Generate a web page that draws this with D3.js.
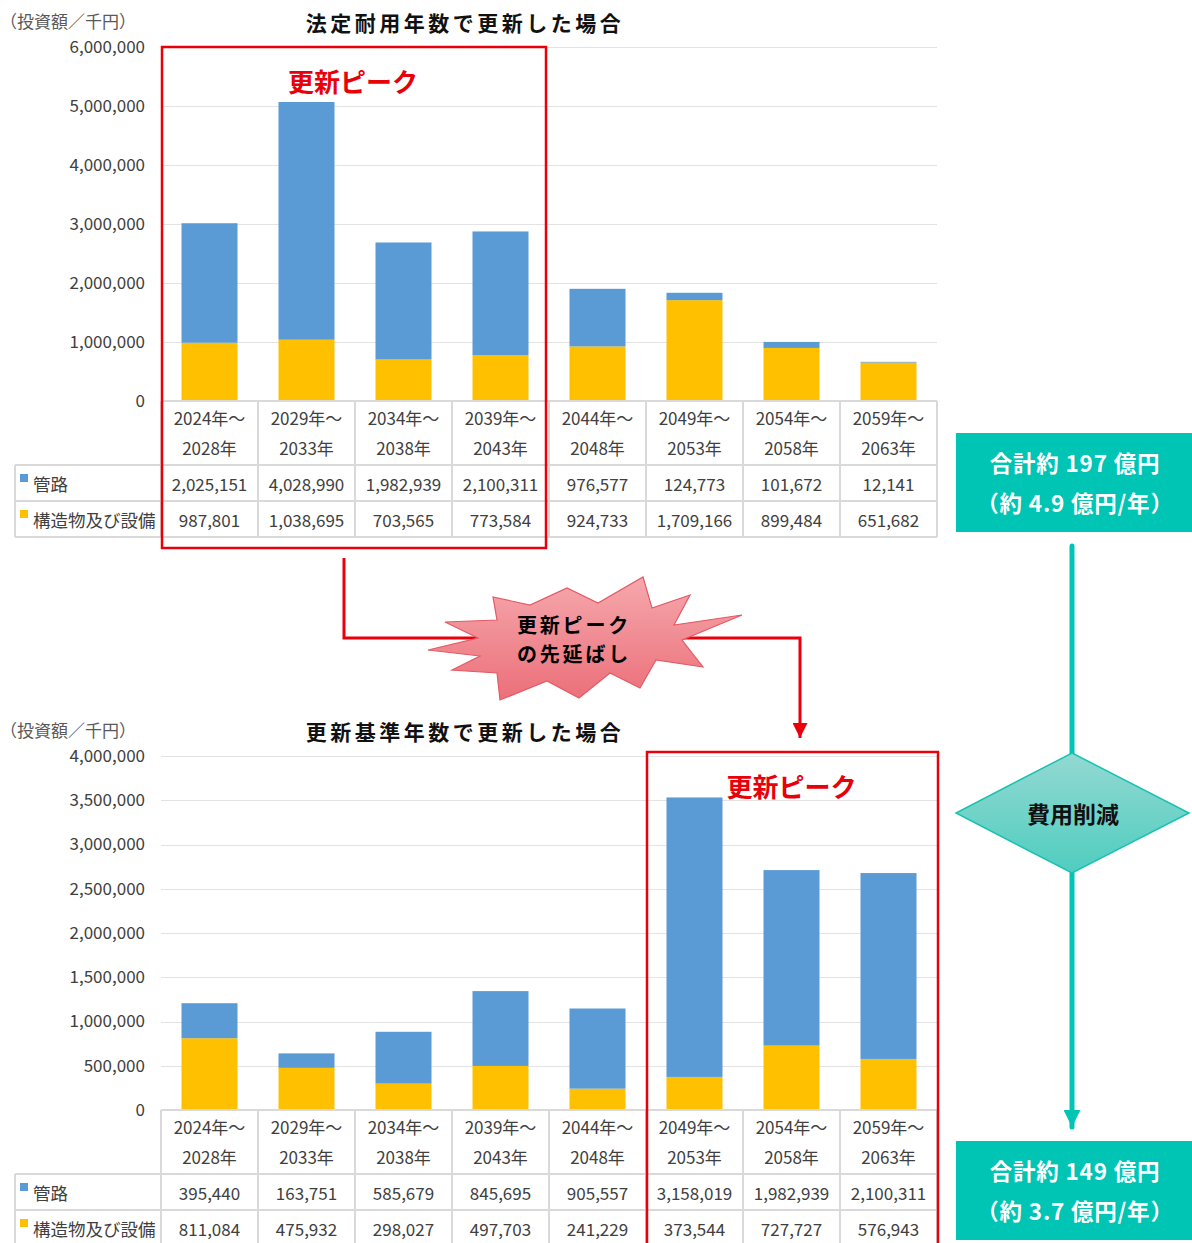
<!DOCTYPE html>
<html>
<head>
<meta charset="utf-8">
<script src="https://cdn.jsdelivr.net/npm/d3@7"></script>
<style>
  body { margin: 0; background: #fff; }
  svg { display: block; font-family: "Noto Sans CJK JP", "Noto Sans", sans-serif; }
</style>
</head>
<body>
<svg id="chart" width="1192" height="1243"></svg>
<script>
// Five-year renewal periods
const categories = [
  "2024年～2028年", "2029年～2033年", "2034年～2038年", "2039年～2043年",
  "2044年～2048年", "2049年～2053年", "2054年～2058年", "2059年～2063年"
];
const seriesNames = ["管路", "構造物及び設備"];

// Renewal by statutory useful life (thousand yen)
const legalPipe     = [2025151, 4028990, 1982939, 2100311, 976577, 124773, 101672, 12141];
const legalFacility = [987801, 1038695, 703565, 773584, 924733, 1709166, 899484, 651682];

// Renewal by the utility's own standard life (thousand yen)
const standardPipe     = [395440, 163751, 585679, 845695, 905557, 3158019, 1982939, 2100311];
const standardFacility = [811084, 475932, 298027, 497703, 241229, 373544, 727727, 576943];

const legalTicks    = [0, 1000000, 2000000, 3000000, 4000000, 5000000, 6000000];
const standardTicks = [0, 500000, 1000000, 1500000, 2000000, 2500000, 3000000, 3500000, 4000000];

const totalsLegal    = ["合計約 197 億円", "（約 4.9 億円/年）"];
const totalsStandard = ["合計約 149 億円", "（約 3.7 億円/年）"];

const COLORS = { pipe: "#5B9BD5", facility: "#FFC000" };
const RED = "#e8000b";
const TEAL = "#00C4B4";
const GRID = "#e3e3e3";
const TABLE_LINE = "#d9d9d9";
const TEXT = "#404040";
const FS = 17;

const svg = d3.select("#chart");
const defs = svg.append("defs");

const fmt = d3.format(",");
const x = d3.scaleBand().domain(categories).range([161, 937]);
const bw = x.bandwidth();
const barW = 56;
const tableLeft = 15;
const headH = 64, rowH = 36;

function splitPeriod(c) {
  const i = c.indexOf("～") + 1;
  return [c.slice(0, i), c.slice(i)];
}

function panel(o) {
  const g = svg.append("g");
  const y = d3.scaleLinear().domain([0, o.max]).range([o.base, o.top]);

  // unit and title
  g.append("text").attr("x", 0).attr("y", o.unitY).attr("dominant-baseline", "central")
    .attr("font-size", FS).attr("fill", "#595959").text("（投資額／千円）");
  g.append("text").attr("x", 465).attr("y", o.titleY).attr("dominant-baseline", "central")
    .attr("text-anchor", "middle").attr("font-size", 21).attr("font-weight", 700)
    .attr("letter-spacing", 3.5).attr("fill", "#111").text(o.title);

  // gridlines
  g.append("g").selectAll("line").data(o.ticks.slice(1)).join("line")
    .attr("x1", 161).attr("x2", 937)
    .attr("y1", d => Math.round(y(d)) + 0.5).attr("y2", d => Math.round(y(d)) + 0.5)
    .attr("stroke", GRID).attr("stroke-width", 1);

  // y axis labels
  const axis = d3.axisLeft(y).tickValues(o.ticks).tickFormat(fmt).tickSize(0).tickPadding(16);
  const ax = g.append("g").attr("transform", "translate(161,0)").call(axis);
  ax.select(".domain").remove();
  ax.selectAll("text").attr("font-size", FS).attr("fill", TEXT)
    .attr("font-family", "\"Noto Sans CJK JP\", sans-serif");

  // stacked bars
  const rows = categories.map((c, i) => ({ cat: c, facility: o.facility[i], pipe: o.pipe[i] }));
  const stack = d3.stack().keys(["facility", "pipe"])(rows);
  g.append("g").selectAll("g").data(stack).join("g")
    .attr("fill", s => COLORS[s.key])
    .selectAll("rect").data(s => s).join("rect")
    .attr("x", d => x(d.data.cat) + (bw - barW) / 2)
    .attr("width", barW)
    .attr("y", d => y(d[1]))
    .attr("height", d => y(d[0]) - y(d[1]));

  // data table
  const t = g.append("g");
  const r1 = o.base + headH, r2 = r1 + rowH, r3 = r2 + rowH;
  const line = (x1, y1, x2, y2) => t.append("line").attr("x1", x1).attr("y1", y1)
    .attr("x2", x2).attr("y2", y2).attr("stroke", TABLE_LINE).attr("stroke-width", 2);
  line(161, o.base, 937, o.base);
  line(tableLeft, r1, 937, r1);
  line(tableLeft, r2, 937, r2);
  line(tableLeft, r3, 937, r3);
  line(tableLeft, r1, tableLeft, r3);
  categories.forEach(c => line(x(c), o.base, x(c), r3));
  line(937, o.base, 937, r3);

  categories.forEach(c => {
    const [a, b] = splitPeriod(c);
    const cx = x(c) + bw / 2;
    t.append("text").attr("x", cx).attr("y", o.base + 16).attr("text-anchor", "middle")
      .attr("dominant-baseline", "central").attr("font-size", FS).attr("fill", TEXT).text(a);
    t.append("text").attr("x", cx).attr("y", o.base + 46).attr("text-anchor", "middle")
      .attr("dominant-baseline", "central").attr("font-size", FS).attr("fill", TEXT).text(b);
  });

  [[o.pipe, "pipe", r1], [o.facility, "facility", r2]].forEach(([vals, key, ry], k) => {
    t.append("rect").attr("x", 20).attr("y", ry + 9).attr("width", 8).attr("height", 8)
      .attr("fill", COLORS[key]);
    t.append("text").attr("x", 33).attr("y", ry + rowH / 2).attr("dominant-baseline", "central")
      .attr("font-size", FS + 0.5).attr("fill", TEXT).text(seriesNames[k]);
    vals.forEach((v, i) => {
      t.append("text").attr("x", x(categories[i]) + bw / 2).attr("y", ry + rowH / 2)
        .attr("text-anchor", "middle").attr("dominant-baseline", "central")
        .attr("font-size", FS).attr("fill", TEXT).text(fmt(v));
    });
  });

  // renewal peak frame
  const bx0 = x(categories[o.peak[0]]) + 1;
  const bx1 = x(categories[o.peak[1]]) + bw - (o.peakInset || 0);
  g.append("rect").attr("x", bx0).attr("y", o.boxTop).attr("width", bx1 - bx0)
    .attr("height", o.boxBottom - o.boxTop).attr("fill", "none")
    .attr("stroke", RED).attr("stroke-width", 2.5);
  g.append("text").attr("x", (bx0 + bx1) / 2 - 1).attr("y", o.boxTop + 33)
    .attr("text-anchor", "middle").attr("dominant-baseline", "central")
    .attr("font-size", 26).attr("font-weight", 700).attr("fill", RED).text("更新ピーク");

  return { y, bx0, bx1 };
}

const legalPanel = panel({
  title: "法定耐用年数で更新した場合", titleY: 22, unitY: 20,
  base: 401, top: 47, max: 6000000, ticks: legalTicks,
  pipe: legalPipe, facility: legalFacility,
  peak: [0, 3], peakInset: 3, boxTop: 47, boxBottom: 548
});
const standardPanel = panel({
  title: "更新基準年数で更新した場合", titleY: 731, unitY: 729,
  base: 1110, top: 756, max: 4000000, ticks: standardTicks,
  pipe: standardPipe, facility: standardFacility,
  peak: [5, 7], peakInset: -1, boxTop: 752, boxBottom: 1260
});

// shift connector between the two peak frames
const m = defs.append("marker").attr("id", "redHead").attr("viewBox", "0 0 10 10")
  .attr("refX", 10).attr("refY", 5).attr("markerWidth", 5).attr("markerHeight", 5)
  .attr("markerUnits", "strokeWidth").attr("orient", "auto");
m.append("path").attr("d", "M0,0 L10,5 L0,10 Z").attr("fill", RED);
svg.append("path")
  .attr("d", "M344,558 V638 H800 V738")
  .attr("fill", "none").attr("stroke", RED).attr("stroke-width", 3)
  .attr("marker-end", "url(#redHead)");

// starburst callout
const burstGrad = defs.append("linearGradient").attr("id", "burst")
  .attr("x1", 0).attr("y1", 0).attr("x2", 0).attr("y2", 1);
burstGrad.append("stop").attr("offset", "0%").attr("stop-color", "#f5a8ad");
burstGrad.append("stop").attr("offset", "100%").attr("stop-color", "#ec6f79");
const burst = [
  [428,650],[478,638],[445,622],[497,620],[493,597],[530,605],[567,588],[598,603],
  [643,577],[652,608],[690,595],[674,625],[742,615],[682,640],[703,667],[656,660],
  [640,688],[610,673],[579,698],[547,681],[500,700],[497,673],[452,670],[480,656]
];
svg.append("polygon").attr("points", burst.map(p => p.join(",")).join(" "))
  .attr("fill", "url(#burst)").attr("stroke", "#e35a66").attr("stroke-width", 1.2);
["更新ピーク", "の先延ばし"].forEach((s, i) => {
  svg.append("text").attr("x", 574).attr("y", 624 + i * 29)
    .attr("text-anchor", "middle").attr("dominant-baseline", "central")
    .attr("font-size", 20).attr("font-weight", 700).attr("letter-spacing", 2.8)
    .attr("fill", "#000").text(s);
});

// cost reduction flow on the right
const tm = defs.append("marker").attr("id", "tealHead").attr("viewBox", "0 0 10 10")
  .attr("refX", 10).attr("refY", 5).attr("markerWidth", 3.4).attr("markerHeight", 3.4)
  .attr("markerUnits", "strokeWidth").attr("orient", "auto");
tm.append("path").attr("d", "M0,0 L10,5 L0,10 Z").attr("fill", TEAL);
svg.append("line").attr("x1", 1072).attr("y1", 546).attr("x2", 1072).attr("y2", 1127)
  .attr("stroke", TEAL).attr("stroke-width", 5).attr("stroke-linecap", "round")
  .attr("marker-end", "url(#tealHead)");

const dGrad = defs.append("linearGradient").attr("id", "diamond")
  .attr("x1", 0).attr("y1", 0).attr("x2", 0).attr("y2", 1);
dGrad.append("stop").attr("offset", "0%").attr("stop-color", "#93d9d2");
dGrad.append("stop").attr("offset", "100%").attr("stop-color", "#4fcdbf");
svg.append("polygon").attr("points", "1072,753 1189,813 1072,873 956,813")
  .attr("fill", "url(#diamond)").attr("stroke", "#17c2b2").attr("stroke-width", 1.5);
svg.append("text").attr("x", 1073).attr("y", 813).attr("text-anchor", "middle")
  .attr("dominant-baseline", "central").attr("font-size", 23).attr("font-weight", 700)
  .attr("fill", "#111").text("費用削減");

function totalBox(y0, lines) {
  svg.append("rect").attr("x", 956).attr("y", y0).attr("width", 236).attr("height", 99).attr("fill", TEAL);
  lines.forEach((s, i) => {
    svg.append("text").attr("x", 1075).attr("y", y0 + 29 + i * 40).attr("text-anchor", "middle")
      .attr("dominant-baseline", "central").attr("font-size", 22.5).attr("font-weight", 700)
      .attr("letter-spacing", 0.8).attr("fill", "#fff").text(s);
  });
}
totalBox(433, totalsLegal);
totalBox(1141, totalsStandard);
</script>
</body>
</html>
